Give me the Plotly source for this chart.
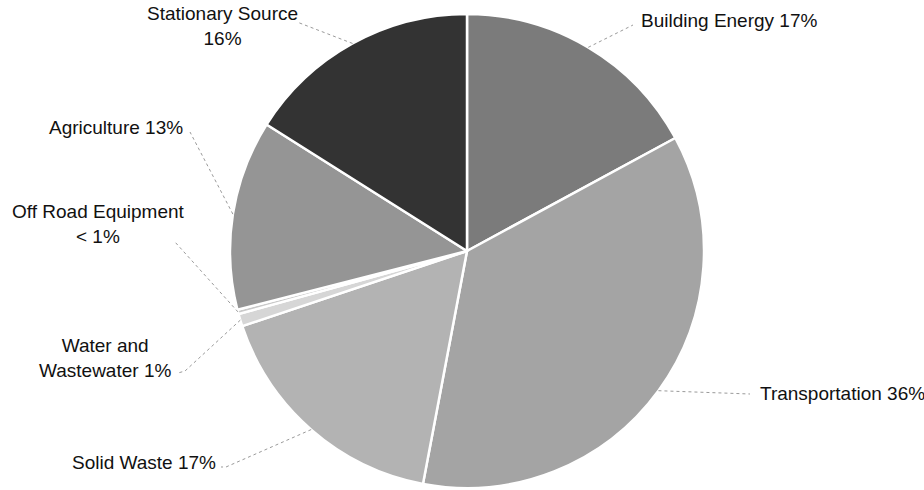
import math
import plotly.graph_objects as go

# ---- data ----
categories = ["Building Energy", "Transportation", "Solid Waste",
              "Water and Wastewater", "Off Road Equipment", "Agriculture",
              "Stationary Source"]
shares = [17.1, 35.9, 16.9, 0.85, 0.3, 12.95, 16.05]
label_texts = ["Building Energy 17%", "Transportation 36%", "Solid Waste 17%",
               "Water and<br>Wastewater 1%", "Off Road Equipment<br>< 1%",
               "Agriculture 13%", "Stationary Source<br>16%"]

# ---- styles / layout ----
colors = ["#7b7b7b", "#a4a4a4", "#b3b3b3", "#d6d6d6", "#c9c9c9", "#959595", "#333333"]
W, H = 924, 490
CX, CY, R = 467, 251, 237  # pie centre / radius in pixels

# label placement: (x px, y px, xanchor) and leader end points (px)
label_pos = [(639, 20, "left"), (758, 393, "left"), (218, 462, "right"),
             (105, 358, "center"), (98, 224, "center"), (185, 127, "right"),
             (222, 26, "center")]
leader_pts = [[(633, 25)], [(750, 394)], [(226, 467), (221, 467)],
              [(185, 371), (178, 373)], [(175, 242)], [(190, 132)],
              [(297, 22)]]

fig = go.Figure(go.Pie(
    values=shares, labels=categories, sort=False, direction="clockwise",
    rotation=0, textinfo="none", hoverinfo="label+percent", showlegend=False,
    marker=dict(colors=colors, line=dict(color="white", width=2.5)),
    domain=dict(x=[(CX - R) / W, (CX + R) / W],
                y=[(H - CY - R) / H, (H - CY + R) / H]),
))

def px2paper(x, y):
    return x / W, 1 - y / H

total = sum(shares)
cum = 0.0
shapes, annotations = [], []
for i, v in enumerate(shares):
    mid = (cum + v / 2) / total * 2 * math.pi
    cum += v
    ex, ey = CX + R * math.sin(mid), CY - R * math.cos(mid)
    pts = [(ex, ey)] + leader_pts[i]
    path = ""
    for j, (x, y) in enumerate(pts):
        px, py = px2paper(x, y)
        path += ("M" if j == 0 else " L") + f"{px:.5f},{py:.5f}"
    shapes.append(dict(type="path", xref="paper", yref="paper", path=path,
                       line=dict(color="#9a9a9a", width=1, dash="dot")))
    lx, ly, anc = label_pos[i]
    ax, ay = px2paper(lx, ly)
    annotations.append(dict(x=ax, y=ay, xref="paper", yref="paper",
                            text=label_texts[i], showarrow=False,
                            xanchor=anc, yanchor="middle", align="center",
                            font=dict(size=19, color="#111111")))

fig.update_layout(
    width=W, height=H, margin=dict(l=0, r=0, t=0, b=0),
    paper_bgcolor="white", plot_bgcolor="white",
    font=dict(family="Liberation Sans, Arial, sans-serif"),
    shapes=shapes, annotations=annotations,
)
fig.write_html("out.html", config={"displayModeBar": False},
               post_script="document.body.style.margin='0';document.body.style.overflow='hidden';")
